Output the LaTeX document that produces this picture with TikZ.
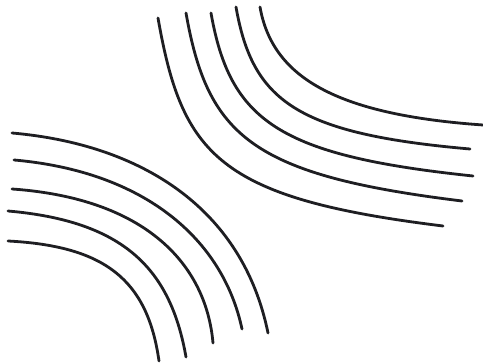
\documentclass[tikz,border=0pt]{standalone}
\usepackage{tikz}
\definecolor{ink}{HTML}{1E1E22}
\tikzset{
  contour/.style={draw=ink, line width=2.8pt, line cap=round}
}
\begin{document}
\begin{tikzpicture}[x=1pt,y=1pt]
\useasboundingbox[fill=white] (0,0) rectangle (483,364);
% upper right set of contour lines
\foreach \sx/\sy/\ex/\ey/\o/\a/\i/\b in {
  260/357/483/239/-80/70/176/150, 236/357/470/215/-80/95/175/175,
  211/351/473/188/-80/110/174/195, 186/351/462/163/-80/125/173/212,
  158/346/443/138/-80/139/173/227}
  \draw[contour] (\sx,\sy) to[out=\o,in=\i,out distance=\a pt,in distance=\b pt] (\ex,\ey);
% lower left set of contour lines
\foreach \sx/\sy/\ex/\ey/\o/\a/\i/\b in {
  12/231/268/31/-5/129/101.5/128, 14/204/242/35/-5/131/102/92,
  12/175/213/21/-4/134/95/79, 8/153/186/7/-5/117/100/89,
  8/123/159/3/-3/96/98/83}
  \draw[contour] (\sx,\sy) to[out=\o,in=\i,out distance=\a pt,in distance=\b pt] (\ex,\ey);
\end{tikzpicture}
\end{document}
